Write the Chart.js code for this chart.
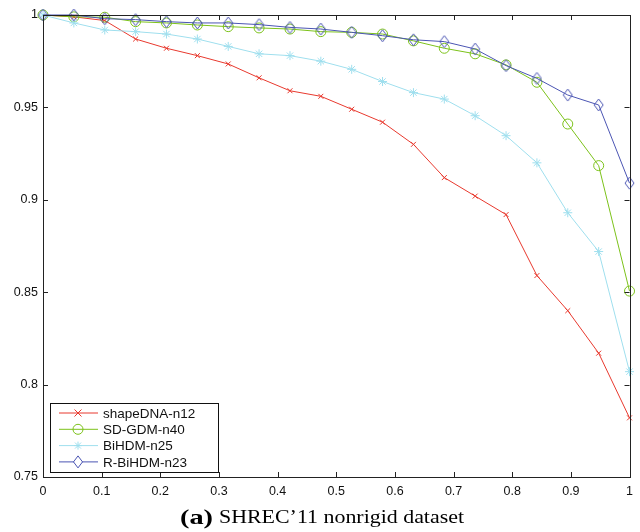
<!DOCTYPE html>
<html>
<head>
<meta charset="utf-8">
<script src="https://cdn.jsdelivr.net/npm/chart.js@4/dist/chart.umd.min.js"></script>
<style>
  html, body { margin: 0; padding: 0; background: #fff; }
  #wrap { width: 640px; height: 532px; }
</style>
</head>
<body>
<div id="wrap"><canvas id="retrievalChart" width="640" height="532"></canvas></div>
<script>
// recall positions (20 samples)
const recall = [0, 0.0526, 0.1053, 0.1579, 0.2105, 0.2632, 0.3158, 0.3684, 0.4211, 0.4737,
  0.5263, 0.5789, 0.6316, 0.6842, 0.7368, 0.7895, 0.8421, 0.8947, 0.9474, 1];

const shapeDNA = [1, 0.999, 0.997, 0.987, 0.982, 0.978, 0.9735, 0.966, 0.959, 0.956,
  0.949, 0.942, 0.930, 0.912, 0.902, 0.892, 0.859, 0.840, 0.817, 0.782];
const sdGDM = [1, 0.999, 0.9988, 0.9964, 0.9957, 0.9946, 0.9937, 0.993, 0.9924, 0.991,
  0.9906, 0.9897, 0.986, 0.982, 0.979, 0.973, 0.9636, 0.941, 0.9185, 0.8506];
const biHDM = [1, 0.9957, 0.9919, 0.991, 0.9897, 0.987, 0.983, 0.979, 0.978, 0.975,
  0.9706, 0.964, 0.958, 0.9545, 0.9455, 0.9347, 0.920, 0.893, 0.872, 0.807];
const rBiHDM = [1, 1, 0.998, 0.9975, 0.9964, 0.9957, 0.9957, 0.9948, 0.9933, 0.9924,
  0.9906, 0.9888, 0.9866, 0.9856, 0.9816, 0.9726, 0.9657, 0.9567, 0.9513, 0.909];

const seriesNames = ["shapeDNA-n12", "SD-GDM-n40", "BiHDM-n25", "R-BiHDM-n23"];
const xTicks = [0, 0.1, 0.2, 0.3, 0.4, 0.5, 0.6, 0.7, 0.8, 0.9, 1];
const yTicks = [0.75, 0.8, 0.85, 0.9, 0.95, 1];

const colors = ["#e8392e", "#7cc21a", "#9fdfee", "#4b55b3"];
const markers = ["crossRot", "circle", "star", "diamond"];

function pts(ys) {
  return recall.map((x, i) => ({ x: x, y: ys[i] }));
}

// draw a marker by hand (used in the legend and for the tall diamond)
function marker(ctx, style, x, y, color) {
  ctx.save();
  ctx.strokeStyle = color;
  ctx.lineWidth = 1;
  ctx.beginPath();
  if (style === "crossRot") {
    ctx.moveTo(x - 3.5, y - 3.5); ctx.lineTo(x + 3.5, y + 3.5);
    ctx.moveTo(x + 3.5, y - 3.5); ctx.lineTo(x - 3.5, y + 3.5);
  } else if (style === "circle") {
    ctx.arc(x, y, 5, 0, Math.PI * 2);
  } else if (style === "star") {
    ctx.moveTo(x - 4, y); ctx.lineTo(x + 4, y);
    ctx.moveTo(x, y - 4); ctx.lineTo(x, y + 4);
    ctx.moveTo(x - 3, y - 3); ctx.lineTo(x + 3, y + 3);
    ctx.moveTo(x + 3, y - 3); ctx.lineTo(x - 3, y + 3);
  } else {
    ctx.moveTo(x, y - 6); ctx.lineTo(x + 4.5, y);
    ctx.lineTo(x, y + 6); ctx.lineTo(x - 4.5, y); ctx.closePath();
  }
  ctx.stroke();
  ctx.restore();
}

// tall matlab-like diamond as a point image
const diamondImg = document.createElement("canvas");
diamondImg.width = 11;
diamondImg.height = 14;
marker(diamondImg.getContext("2d"), "diamond", 5.5, 7, colors[3]);

// text squeezed/stretched horizontally to fill a given span
function fitText(ctx, text, x0, x1, y) {
  const w = ctx.measureText(text).width;
  ctx.save();
  ctx.translate(x0, y);
  ctx.scale((x1 - x0) / w, 1);
  ctx.fillText(text, 0, 0);
  ctx.restore();
}

// matlab style box, inward ticks, legend and caption
const matlabFrame = {
  id: "matlabFrame",
  afterDraw(chart) {
    const ctx = chart.ctx;
    const a = chart.chartArea;
    const xs = chart.scales.x, ys = chart.scales.y;
    ctx.save();
    ctx.strokeStyle = "#222";
    ctx.lineWidth = 1;
    ctx.strokeRect(Math.round(a.left) + 0.5, Math.round(a.top) + 0.5,
      Math.round(a.right - a.left), Math.round(a.bottom - a.top));
    ctx.beginPath();
    xTicks.forEach(v => {
      const px = Math.round(xs.getPixelForValue(v)) + 0.5;
      ctx.moveTo(px, a.top); ctx.lineTo(px, a.top + 5);
      ctx.moveTo(px, a.bottom); ctx.lineTo(px, a.bottom - 5);
    });
    yTicks.forEach(v => {
      const py = Math.round(ys.getPixelForValue(v)) + 0.5;
      ctx.moveTo(a.left, py); ctx.lineTo(a.left + 5, py);
      ctx.moveTo(a.right, py); ctx.lineTo(a.right - 5, py);
    });
    ctx.stroke();

    // legend box
    const lx = 50.5, ly = 403.5, lw = 168, lh = 69;
    ctx.fillStyle = "#fff";
    ctx.fillRect(lx, ly, lw, lh);
    ctx.strokeStyle = "#111";
    ctx.strokeRect(lx, ly, lw, lh);
    ctx.font = "13.5px 'Liberation Sans', Arial, sans-serif";
    ctx.textBaseline = "middle";
    seriesNames.forEach((name, i) => {
      const y = 413 + i * 16.3;
      ctx.strokeStyle = colors[i];
      ctx.beginPath();
      ctx.moveTo(59, y); ctx.lineTo(98, y);
      ctx.stroke();
      if (i === 3) {
        ctx.fillStyle = "#fff";
        ctx.fillRect(74, y - 5, 8, 10);
      }
      marker(ctx, markers[i], 78, y, colors[i]);
      ctx.fillStyle = "#111";
      ctx.fillText(name, 103, y + 1);
    });

    // caption
    ctx.fillStyle = "#000";
    ctx.textBaseline = "alphabetic";
    ctx.textAlign = "left";
    ctx.font = "bold 21px 'Liberation Serif', 'Times New Roman', serif";
    fitText(ctx, "(a)", 180, 213, 524);
    ctx.font = "19px 'Liberation Serif', 'Times New Roman', serif";
    fitText(ctx, "SHREC\u201911 nonrigid dataset", 219, 464, 523);
    ctx.restore();
  }
};

const ctx = document.getElementById("retrievalChart").getContext("2d");
new Chart(ctx, {
  type: "line",
  data: {
    datasets: [shapeDNA, sdGDM, biHDM, rBiHDM].map((ys, i) => ({
      label: seriesNames[i],
      data: pts(ys),
      borderColor: colors[i],
      backgroundColor: "rgba(0,0,0,0)",
      pointBorderColor: colors[i],
      pointBackgroundColor: "rgba(0,0,0,0)",
      pointStyle: i === 3 ? diamondImg : markers[i],
      pointRadius: i === 1 ? 5 : i === 0 ? 3.5 : 4.5,
      pointBorderWidth: 1,
      borderWidth: 1,
      tension: 0,
      clip: false,
      order: 4 - i,
    })),
  },
  options: {
    responsive: false,
    animation: false,
    events: [],
    layout: { padding: { top: 15, right: 10, left: 0, bottom: 0 } },
    plugins: {
      legend: { display: false },
      tooltip: { enabled: false },
    },
    scales: {
      x: {
        type: "linear",
        min: 0,
        max: 1,
        afterFit: s => { s.height = 55; },
        afterBuildTicks: s => { s.ticks = xTicks.map(v => ({ value: v })); },
        grid: { display: false, drawTicks: false },
        border: { display: false },
        ticks: {
          padding: 7,
          color: "#111",
          font: { family: "'Liberation Sans', Arial, sans-serif", size: 12.5 },
          callback: v => String(+v.toFixed(2)),
        },
      },
      y: {
        type: "linear",
        min: 0.75,
        max: 1,
        afterFit: s => { s.width = 43; },
        afterBuildTicks: s => { s.ticks = yTicks.map(v => ({ value: v })); },
        grid: { display: false, drawTicks: false },
        border: { display: false },
        ticks: {
          padding: 5,
          color: "#111",
          font: { family: "'Liberation Sans', Arial, sans-serif", size: 12.5 },
          callback: v => String(+v.toFixed(2)),
        },
      },
    },
  },
  plugins: [matlabFrame],
});
</script>
</body>
</html>
